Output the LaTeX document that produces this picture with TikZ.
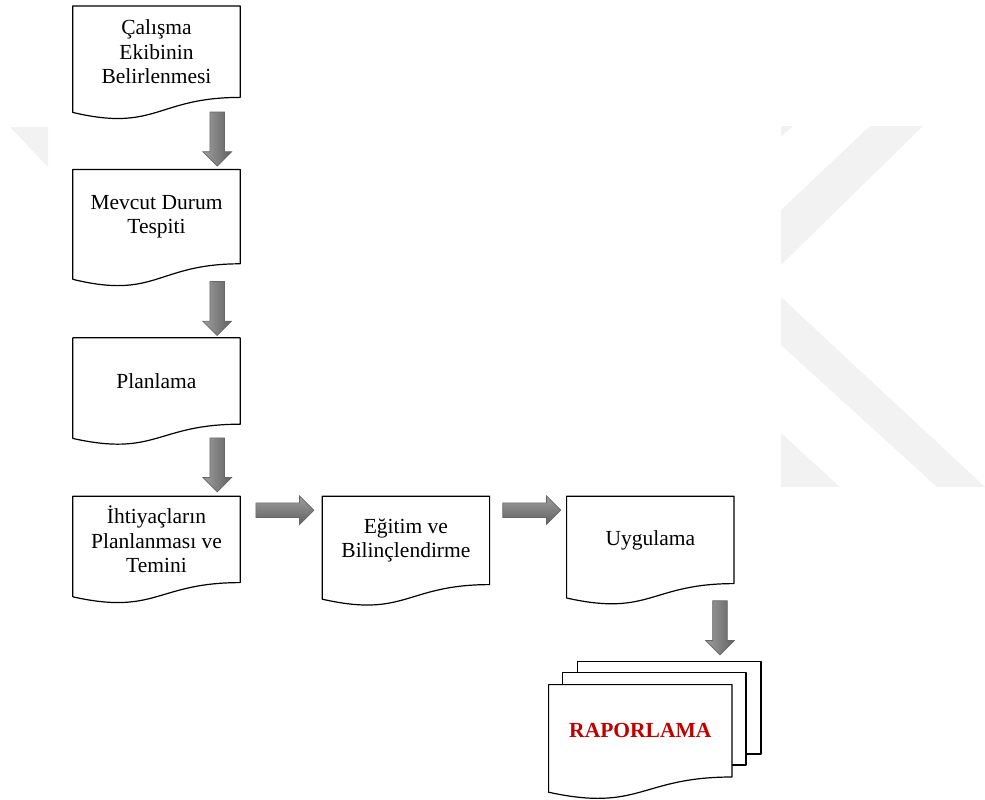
\documentclass[tikz,border=0pt]{standalone}
\usepackage{fontspec}
\setmainfont{Liberation Serif}
\usepackage{tikz}
\usetikzlibrary{positioning,calc,shapes.arrows,backgrounds}
\newcommand{\akisFont}{\fontsize{21.5}{24.7}\selectfont}
\definecolor{raporred}{HTML}{C00000}
\tikzset{
  %% akisbox: the text area of a flowchart "document" shape; its argument is
  %% the height of that area, the wavy bottom is drawn below it by \belgeKenar.
  akisbox/.style={
    minimum width=167pt, minimum height=#1, inner sep=2pt,
    align=center, font=\akisFont, text=black},
  akisline/.style={draw=black, line width=1.2pt, line join=round},
  %% block arrows between the stages (grey, shaded)
  akisok/.style={
    single arrow, single arrow head extend=7pt, inner sep=7pt,
    minimum width=28pt, draw=black!60, line width=0.7pt},
  asagiok/.style={akisok, rotate=-90, minimum height=54pt,
    left color=black!38, right color=black!62},
  sagok/.style={akisok, minimum height=58pt,
    top color=black!38, bottom color=black!62},
  watermark/.style={fill=black!5, draw=none},
}
%% document outline: flat top, wavy bottom (lower on the left)
\newcommand{\belgeKenar}[2][]{%
  \draw[akisline,#1] (#2.north west) -- (#2.north east) -- (#2.south east)
    .. controls (#2.south) and ($(#2.north)!1.381!(#2.south)$)
    .. ($(#2.north west)!1.1646!(#2.south west)$) -- cycle;}

\begin{document}
\begin{tikzpicture}[x=1pt, y=-1pt]
\useasboundingbox (0,0) rectangle (985,800);

%% --- main column ---------------------------------------------------
\node[akisbox=91pt, anchor=north] (s1) at (156.5,6)
  {Çalışma\\Ekibinin\\Belirlenmesi};
\node[akisbox=94pt, below=72pt of s1] (s2) {Mevcut Durum\\Tespiti};
\node[akisbox=86pt, below=74pt of s2] (s3) {Planlama};
\node[akisbox=86pt, below=72pt of s3] (s4)
  {İhtiyaçların\\Planlanması ve\\Temini};

%% --- bottom row ----------------------------------------------------
\node[akisbox=88pt, right=82pt of s4.north east, anchor=north west] (s5)
  {Eğitim ve\\Bilinçlendirme};
\node[akisbox=87pt, right=77pt of s5.north east, anchor=north west] (s6)
  {Uygulama};

%% --- report (stacked documents) ------------------------------------
\node[akisbox=92pt, minimum width=183pt, below=101pt of s6.south east,
      anchor=north east, xshift=-2pt, font=\akisFont\bfseries,
      text=raporred] (rapor) {\raisebox{-9.5pt}{RAPORLAMA}};

%% --- arrows --------------------------------------------------------
\node[asagiok] (a1) at ($(s1.south east)!0.5!(s2.north east)+(-23,2)$) {};
\node[asagiok] (a2) at ($(s2.south east)!0.5!(s3.north east)+(-23,4)$) {};
\node[asagiok] (a3) at ($(s3.south east)!0.5!(s4.north east)+(-23,1)$) {};
\node[sagok]   (a4) at ($(s4.north east)!0.5!(s5.north west)+(0,14)$) {};
\node[sagok]   (a5) at ($(s5.north east)!0.5!(s6.north west)+(0,14)$) {};
\node[asagiok] (a6) at ($(s6.south east)!0.5!(rapor.north east)+(-13,-10)$) {};

\begin{scope}[on background layer]
  %% faint watermark behind the chart
  \fill[watermark] (870,126) -- (923,126) -- (781,265) -- (781,210) -- cycle;
  \fill[watermark] (781,126) -- (793,126) -- (781,137) -- cycle;
  \fill[watermark] (781,297) -- (985,487) -- (937,487) -- (781,345) -- cycle;
  \fill[watermark] (781,433) -- (840,487) -- (781,487) -- cycle;
  \fill[watermark] (10,127) -- (48,127) -- (48,167) -- cycle;

  \foreach \s in {s1,s2,s3,s4,s5,s6}{\belgeKenar{\s}}

  %% sheets behind the report
  \draw[akisline, fill=white] ([shift={(29,-23)}]rapor.north west)
    rectangle ([shift={(29,-23)}]rapor.south east);
  \draw[akisline, fill=white] ([shift={(14,-12)}]rapor.north west)
    rectangle ([shift={(14,-12)}]rapor.south east);
  \belgeKenar[fill=white]{rapor}
\end{scope}

\end{tikzpicture}
\end{document}
